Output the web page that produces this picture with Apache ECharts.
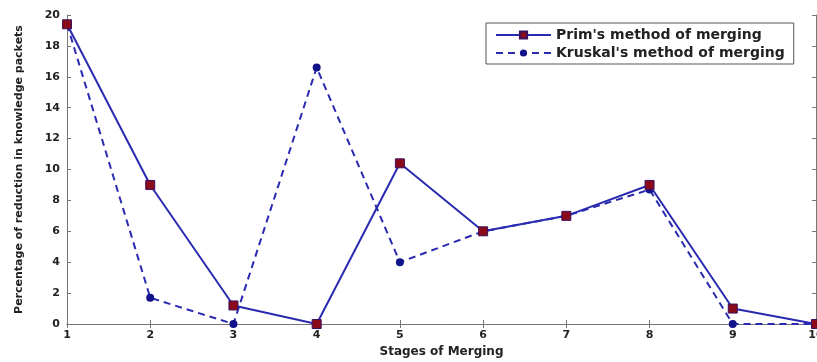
<!DOCTYPE html>
<html>
<head>
<meta charset="utf-8">
<script src="https://cdn.jsdelivr.net/npm/echarts@6/dist/echarts.min.js"></script>
<style>html,body{margin:0;padding:0;background:#fff}#c{width:817px;height:362px}</style>
</head>
<body>
<div id="c"></div>
<script>
const stages = [1, 2, 3, 4, 5, 6, 7, 8, 9, 10];
const primValues = [19.4, 9.0, 1.2, 0.0, 10.4, 6.0, 7.0, 9.0, 1.0, 0.0];
const kruskalValues = [19.4, 1.7, 0.0, 16.6, 4.0, 6.0, 7.0, 8.7, 0.0, 0.0];
const seriesNames = ["Prim's method of merging", "Kruskal's method of merging"];
const xTitle = "Stages of Merging";
const yTitle = "Percentage of reduction in knowledge packets";

const FONT = '"DejaVu Sans", sans-serif';
const lineColor = '#2a2ab0';
const axisColor = '#777';

const chart = echarts.init(document.getElementById('c'), null, {renderer: 'canvas'});
const pair = (vals) => stages.map((s, i) => [s, vals[i]]);

const axisCommon = {
  type: 'value',
  axisLine: {show: true, lineStyle: {color: axisColor, width: 1}},
  axisTick: {show: true, inside: true, length: 4, lineStyle: {color: axisColor}},
  splitLine: {show: false}
};

chart.setOption({
  animation: false,
  backgroundColor: '#fff',
  grid: {left: 67, right: 1, top: 15, bottom: 38, containLabel: false, outerBoundsMode: 'none'},
  legend: {
    left: 486, top: 23,
    orient: 'vertical',
    backgroundColor: '#fff',
    borderColor: '#555', borderWidth: 1,
    padding: [5, 9, 4, 9],
    itemWidth: 55, itemHeight: 9, itemGap: 4,
    textStyle: {fontFamily: FONT, fontWeight: 'bold', fontSize: 14, color: '#222'},
    data: seriesNames
  },
  xAxis: [
    Object.assign({}, axisCommon, {
      min: 1, max: 10, interval: 1, position: 'bottom',
      name: xTitle, nameLocation: 'middle', nameGap: 21,
      nameTextStyle: {fontFamily: FONT, fontWeight: 'bold', fontSize: 12, color: '#222'},
      axisLabel: {fontFamily: FONT, fontWeight: 'bold', fontSize: 11, color: '#222', margin: 6}
    }),
    Object.assign({}, axisCommon, {
      min: 1, max: 10, interval: 1, position: 'top', axisLabel: {show: false}
    })
  ],
  yAxis: [
    Object.assign({}, axisCommon, {
      min: 0, max: 20, interval: 2, position: 'left',
      name: yTitle, nameLocation: 'middle', nameGap: 42, nameRotate: 90,
      nameTextStyle: {fontFamily: FONT, fontWeight: 'bold', fontSize: 11, color: '#222'},
      axisLabel: {fontFamily: FONT, fontWeight: 'bold', fontSize: 11, color: '#222', margin: 7}
    }),
    Object.assign({}, axisCommon, {
      min: 0, max: 20, interval: 2, position: 'right', axisLabel: {show: false}
    })
  ],
  series: [
    {
      name: seriesNames[0], type: 'line', data: pair(primValues),
      symbol: 'rect', symbolSize: 9,
      lineStyle: {color: lineColor, width: 2, type: 'solid'},
      itemStyle: {color: '#8a0a1a', borderColor: '#3a1060', borderWidth: 1},
      z: 3
    },
    {
      name: seriesNames[1], type: 'line', data: pair(kruskalValues),
      symbol: 'circle', symbolSize: 8,
      lineStyle: {color: lineColor, width: 2, type: [7, 5]},
      itemStyle: {color: '#12128a', borderColor: '#12128a', borderWidth: 0},
      z: 2
    }
  ]
});
</script>
</body>
</html>
